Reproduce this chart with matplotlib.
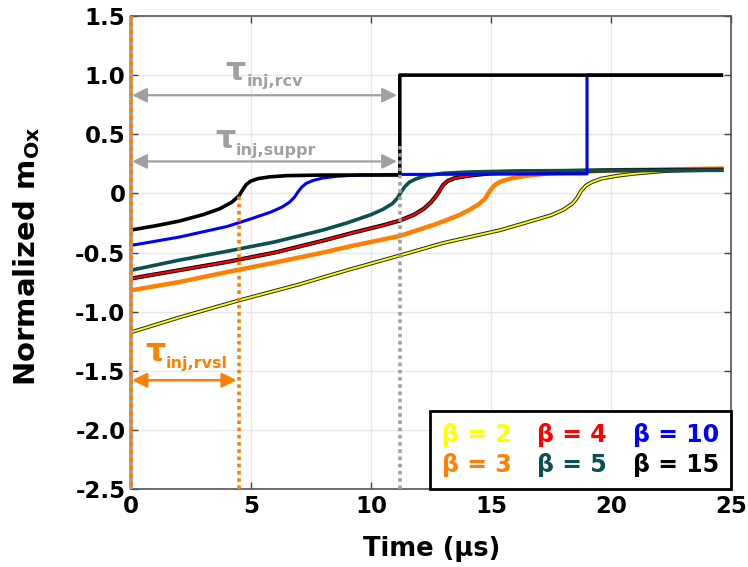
import matplotlib
matplotlib.use("Agg")
import matplotlib.pyplot as plt
import matplotlib.patheffects as pe
from matplotlib.lines import Line2D

plt.rcParams['font.family'] = ['DejaVu Sans']
plt.rcParams['mathtext.fontset'] = 'dejavusans'
plt.rcParams['font.weight'] = 'bold'

# ---------------- data ----------------
b15_x = [0, 1, 2, 3, 3.7, 4.2, 4.5, 4.65, 4.8, 5.0, 5.3, 5.8, 6.5, 8, 11.2, 11.2, 24.6]
b15_y = [-0.31, -0.275, -0.235, -0.18, -0.13, -0.075, -0.02, 0.03, 0.075, 0.105, 0.125, 0.14, 0.15, 0.155, 0.155, 1.0, 1.0]

b10_x = [0, 1, 2, 3, 4, 5, 5.8, 6.3, 6.6, 6.8, 6.95, 7.1, 7.3, 7.6, 8.0, 8.6, 9.5, 11, 19.0, 19.0, 24.6]
b10_y = [-0.44, -0.405, -0.37, -0.325, -0.28, -0.215, -0.16, -0.115, -0.075, -0.035, 0.01, 0.05, 0.085, 0.11, 0.13, 0.145, 0.155, 0.16, 0.165, 1.0, 1.0]

b5_x = [0, 2, 4, 6, 8, 9, 10, 10.5, 10.9, 11.1, 11.25, 11.4, 11.6, 11.9, 12.3, 13, 14, 16, 20, 24.6]
b5_y = [-0.65, -0.565, -0.49, -0.41, -0.31, -0.25, -0.18, -0.135, -0.085, -0.04, 0.01, 0.055, 0.095, 0.125, 0.15, 0.17, 0.18, 0.19, 0.195, 0.195]

b4_x = [0, 2, 4, 6, 8, 9.3, 10.5, 11.2, 11.8, 12.2, 12.5, 12.7, 12.85, 13.0, 13.2, 13.5, 14.1, 15, 17, 20, 24.6]
b4_y = [-0.72, -0.65, -0.58, -0.50, -0.40, -0.33, -0.27, -0.23, -0.18, -0.13, -0.075, -0.025, 0.02, 0.07, 0.105, 0.13, 0.15, 0.17, 0.185, 0.195, 0.2]

b3_x = [0, 2, 4.5, 6, 8, 9.3, 11.2, 12.7, 13.6, 14.1, 14.5, 14.75, 14.95, 15.15, 15.4, 15.8, 16.5, 17.5, 20, 24.6]
b3_y = [-0.82, -0.75, -0.645, -0.585, -0.50, -0.44, -0.36, -0.26, -0.19, -0.14, -0.09, -0.045, 0.02, 0.07, 0.10, 0.125, 0.15, 0.17, 0.195, 0.21]

b2_x = [0, 2, 4.5, 7, 9, 11.2, 13, 15.4, 16.5, 17.5, 18.0, 18.4, 18.6, 18.75, 18.95, 19.2, 19.6, 20.3, 21, 22.3, 24.6]
b2_y = [-1.175, -1.05, -0.905, -0.77, -0.65, -0.525, -0.42, -0.31, -0.245, -0.185, -0.14, -0.085, -0.035, 0.02, 0.065, 0.095, 0.125, 0.15, 0.167, 0.19, 0.2]

t_rvsl = 4.5
t_rcv = 11.2
y_rcv_arrow = 0.83
y_suppr_arrow = 0.27
y_rvsl_arrow = -1.58

legend_labels = ['β = 2', 'β = 3', 'β = 4', 'β = 5', 'β = 10', 'β = 15']
legend_colors = ['#FFFF00', '#FF8000', '#FF0000', '#0B4F4F', '#0000FF', '#000000']

yticks = [1.5, 1.0, 0.5, 0, -0.5, -1.0, -1.5, -2.0, -2.5]
ytick_labels = ['1.5', '1.0', '0.5', '0', '-0.5', '-1.0', '-1.5', '-2.0', '-2.5']
xticks = [0, 5, 10, 15, 20, 25]

# ---------------- figure ----------------
fig = plt.figure(figsize=(7.48, 5.67), dpi=100)
ax = fig.add_axes([131/748, 1-489/567, 600/748, 473/567])
ax.set_xlim(0, 25)
ax.set_ylim(-2.5, 1.5)

ax.grid(True, color='#e8e8e8', lw=1)
ax.set_axisbelow(True)

gray = '#a0a0a0'
orange = '#FF8000'

# vertical dotted markers
ax.plot([0, 0], [-2.5, 1.5], color=gray, lw=2.8, ls=(0, (1, 1)), zorder=6, dash_capstyle='butt', clip_on=False)
ax.plot([0, 0], [-2.5, 1.5], color=orange, lw=2.8, ls=(1, (1, 1)), zorder=6, dash_capstyle='butt', clip_on=False)
ax.plot([t_rvsl, t_rvsl], [-2.5, -0.02], color=orange, lw=2.6, ls=(0, (1, 1)), zorder=6, dash_capstyle='butt')

# curves
ax.plot(b2_x, b2_y, color='#FFFF00', lw=1.4, zorder=3,
        path_effects=[pe.Stroke(linewidth=2.8, foreground='#222222'), pe.Normal()])
ax.plot(b3_x, b3_y, color=orange, lw=3.2, zorder=3)
ax.plot(b4_x, b4_y, color='#FF0000', lw=1.6, zorder=3,
        path_effects=[pe.Stroke(linewidth=3.0, foreground='black'), pe.Normal()])
ax.plot(b5_x, b5_y, color='#0B4F4F', lw=2.6, zorder=3)
ax.plot(b10_x, b10_y, color='#0000FF', lw=2.2, zorder=4)
ax.plot(b15_x, b15_y, color='black', lw=2.6, zorder=4.5)

ax.plot([t_rcv, t_rcv], [-2.5, 0.4], color=gray, lw=2.6, ls=(0, (1, 1)), zorder=5, dash_capstyle='butt')

# arrows
aprops = dict(arrowstyle='<|-|>', color=gray, lw=1.6, mutation_scale=22, shrinkA=0, shrinkB=0)
ax.annotate('', xy=(0.05, y_rcv_arrow), xytext=(t_rcv - 0.12, y_rcv_arrow), arrowprops=aprops, zorder=7)
ax.annotate('', xy=(0.05, y_suppr_arrow), xytext=(t_rcv - 0.12, y_suppr_arrow), arrowprops=aprops, zorder=7)
oprops = dict(arrowstyle='<|-|>', color=orange, lw=1.8, mutation_scale=22, shrinkA=0, shrinkB=0)
ax.annotate('', xy=(0.05, y_rvsl_arrow), xytext=(t_rvsl - 0.1, y_rvsl_arrow), arrowprops=oprops, zorder=7)

def tau_label(x, y, sub, color, dx=0.85, dy=-0.055):
    ax.text(x, y, 'τ', color=color, fontsize=23, fontweight='bold', zorder=8, va='baseline')
    ax.text(x + dx, y + dy, sub, color=color, fontsize=11.5, fontweight='bold', zorder=8, va='baseline')

tau_label(3.95, 0.96, 'inj,rcv', gray)
tau_label(3.5, 0.38, 'inj,suppr', gray)
tau_label(0.6, -1.42, 'inj,rvsl', orange)

# ticks
ax.set_xticks(xticks)
ax.set_xticklabels([str(v) for v in xticks])
ax.set_yticks(yticks)
ax.set_yticklabels(ytick_labels)
ax.tick_params(direction='in', top=True, right=True, length=5, width=1, color='#444444',
               labelsize=16.5, pad=4)
for lab in ax.get_xticklabels() + ax.get_yticklabels():
    lab.set_fontweight('bold')
for s in ax.spines.values():
    s.set_color('#555555')
    s.set_linewidth(1.2)

fig.text(432/748, 1-549/567, 'Time (μs)', fontsize=18.5, fontweight='bold', ha='center', va='center')
fig.text(27/748, 1-256/567, r'Normalized m$_{\mathbf{Ox}}$', fontsize=21, fontweight='bold',
         ha='center', va='center', rotation=90)

# legend (coloured text only)
handles = [Line2D([], [], color='none') for _ in legend_labels]
leg = ax.legend(handles, legend_labels, loc='lower right', ncol=3, frameon=True,
                fancybox=False, edgecolor='black', framealpha=1, borderaxespad=0,
                handlelength=0, handletextpad=0, columnspacing=1.1,
                prop={'weight': 'bold', 'size': 17}, borderpad=0.5, labelspacing=0.25)
leg.get_frame().set_linewidth(2)
leg.set_zorder(10)
for t, c in zip(leg.get_texts(), legend_colors):
    t.set_color(c)

fig.savefig('out.png', dpi=100)
